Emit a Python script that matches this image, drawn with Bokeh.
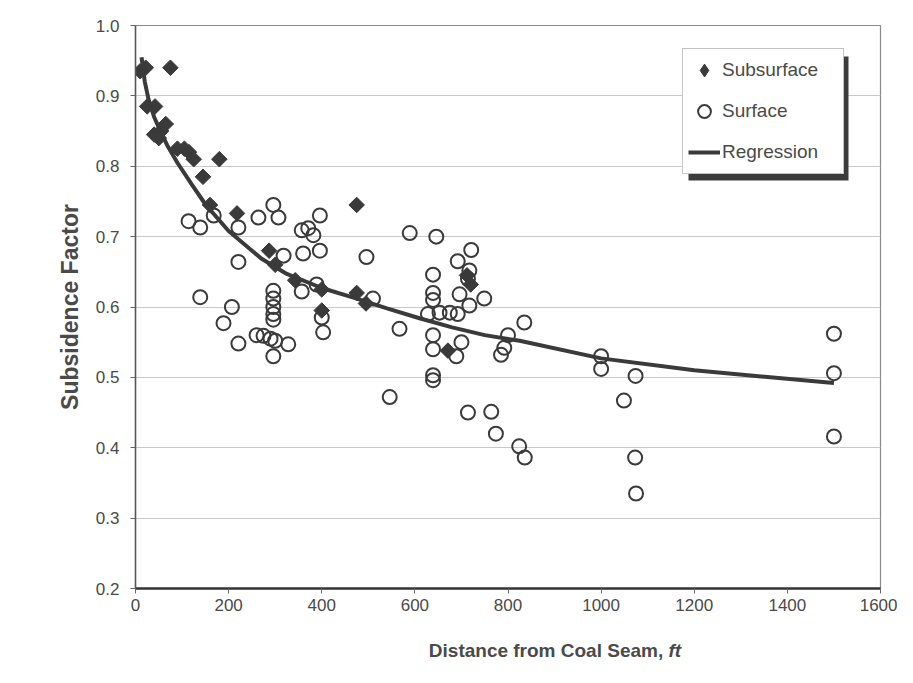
import math
from bokeh.plotting import figure
from bokeh.layouts import column
from bokeh.models import Legend, LegendItem, BoxAnnotation, FixedTicker, Range1d
from bokeh.core.properties import value
from bokeh.embed import file_html
from bokeh.resources import INLINE

# ---------------- data ----------------
x_ticks = [0, 200, 400, 600, 800, 1000, 1200, 1400, 1600]
x_tick_labels = ["0", "200", "400", "600", "800", "1000", "1200", "1400", "1600"]
y_ticks = [0.2, 0.3, 0.4, 0.5, 0.6, 0.7, 0.8, 0.9, 1.0]
y_tick_labels = ["0.2", "0.3", "0.4", "0.5", "0.6", "0.7", "0.8", "0.9", "1.0"]

sub_x = [10, 22, 75, 25, 42, 40, 55, 65, 50, 90, 105, 115, 125, 180, 145, 160,
         218, 287, 300, 343, 400, 400, 475, 475, 495, 671, 712, 720]
sub_y = [0.935, 0.940, 0.940, 0.885, 0.885, 0.845, 0.850, 0.860, 0.840, 0.825, 0.825,
         0.820, 0.810, 0.810, 0.785, 0.745, 0.733, 0.680, 0.660, 0.638, 0.625, 0.595,
         0.745, 0.620, 0.605, 0.538, 0.645, 0.632]

surf_x = [114, 139, 139, 168, 221, 221, 207, 189, 221, 264, 296, 307, 318, 260, 275, 290,
          300, 328, 296, 296, 296, 296, 296, 296, 357, 371, 382, 396, 360, 396, 389, 357,
          400, 403, 496, 510, 567, 589, 646, 546, 639, 639, 639, 628, 653, 675, 692, 639,
          639, 689, 639, 639, 692, 721, 717, 714, 696, 717, 749, 700, 800, 785, 792, 835,
          714, 764, 774, 824, 836, 1000, 1000, 1074, 1049, 1073, 1075, 1500, 1500, 1500]
surf_y = [0.722, 0.713, 0.614, 0.730, 0.713, 0.664, 0.600, 0.577, 0.548, 0.727, 0.745, 0.727,
          0.673, 0.560, 0.559, 0.555, 0.552, 0.547, 0.530, 0.623, 0.612, 0.600, 0.590, 0.582,
          0.709, 0.712, 0.702, 0.730, 0.676, 0.680, 0.632, 0.622, 0.585, 0.564, 0.671, 0.612,
          0.569, 0.705, 0.700, 0.472, 0.646, 0.620, 0.610, 0.590, 0.592, 0.592, 0.590, 0.560,
          0.540, 0.530, 0.503, 0.496, 0.665, 0.681, 0.652, 0.640, 0.618, 0.602, 0.612, 0.550,
          0.560, 0.532, 0.542, 0.578, 0.450, 0.451, 0.420, 0.402, 0.386, 0.530, 0.512, 0.502,
          0.467, 0.386, 0.335, 0.562, 0.506, 0.416]

reg_x = [13, 20, 28, 40, 50, 68, 90, 120, 150, 200, 270, 325, 400, 470, 540, 610, 680,
         750, 825, 1000, 1200, 1500]
reg_y = [0.955, 0.920, 0.895, 0.870, 0.855, 0.830, 0.805, 0.775, 0.746, 0.708, 0.669,
         0.647, 0.627, 0.613, 0.598, 0.584, 0.571, 0.560, 0.552, 0.527, 0.510, 0.492]

x_title_main = "Distance from Coal Seam, "
x_title_unit = "ft"
y_title = "Subsidence Factor"

# ---------------- layout (pixels) ----------------
W = 897
H_MAIN = 625                                  # main figure height
H_TITLE = 42                                  # strip below holding the x title
FL, FR, FT, FB = 135, 880, 25, 588            # frame edges in picture pixels
X0, X1, Y0, Y1 = 0, 1600, 0.2, 1.0


def px_to_x(px):
    return X0 + (px - FL) * (X1 - X0) / (FR - FL)


def py_to_y(py):
    return Y1 - (py - FT) * (Y1 - Y0) / (FB - FT)


FONT = "Liberation Sans"
INK = "#3a3a3a"
TXT = "#4a4a4a"

p = figure(width=W, height=H_MAIN, output_backend="svg", toolbar_location=None,
           x_range=Range1d(X0, X1), y_range=Range1d(Y0, Y1),
           min_border_left=FL, min_border_right=W - FR, min_border_top=FT,
           min_border_bottom=H_MAIN - FB)
p.background_fill_color = "#ffffff"
p.border_fill_color = "#ffffff"
p.outline_line_color = "#8a8a8a"
p.outline_line_width = 1.2

p.xgrid.visible = False
p.ygrid.grid_line_color = "#c9c9c9"
p.ygrid.grid_line_width = 1

p.xaxis.ticker = FixedTicker(ticks=x_ticks)
p.yaxis.ticker = FixedTicker(ticks=y_ticks)
p.xaxis.major_label_overrides = dict(zip(x_ticks, x_tick_labels))
p.yaxis.major_label_overrides = dict(zip(y_ticks, y_tick_labels))

for ax in (p.xaxis, p.yaxis):
    ax.major_label_text_font = FONT
    ax.major_label_text_font_size = "17px"
    ax.major_label_text_color = TXT
    ax.major_tick_in = 0
    ax.major_tick_out = 5
    ax.minor_tick_line_color = None
    ax.major_tick_line_color = "#666666"
    ax.axis_label_text_font = FONT
    ax.axis_label_text_font_style = "bold"
    ax.axis_label_text_color = TXT

p.xaxis.axis_line_color = "#333333"
p.xaxis.axis_line_width = 2.5
p.yaxis.axis_line_color = "#555555"
p.yaxis.axis_line_width = 1.5
p.xaxis.major_label_standoff = 5
p.yaxis.major_label_standoff = 11

p.yaxis.axis_label = y_title
p.yaxis.axis_label_text_font_size = "23px"
p.yaxis.axis_label_standoff = 10
p.xaxis.axis_label = None

# ---------------- glyphs ----------------
# tiny diamonds under the real symbols: used only as the legend key
# (legend keys ignore the marker angle, so the rotated squares can't be used)
r_sub_key = p.scatter(sub_x, sub_y, marker="diamond", size=1,
                      fill_color=INK, line_color=INK)
r_sub = p.scatter(sub_x, sub_y, marker="square", size=11, angle=math.pi / 4,
                  fill_color=INK, line_color=INK, line_width=1)
r_surf = p.scatter(surf_x, surf_y, marker="circle", size=14, fill_color=None,
                   line_color=INK, line_width=2)
r_reg = p.line(reg_x, reg_y, line_color=INK, line_width=4)

# legend with drop shadow
LG_L, LG_R, LG_T = 682, 842, 50
PAD, GW, GH, SP, STD = 5, 32, 32, 9, 2
LG_B = LG_T + 2 * PAD + 3 * GH + 2 * SP
SH = 6
p.add_layout(BoxAnnotation(left=px_to_x(LG_L + SH), right=px_to_x(LG_R + SH),
                           top=py_to_y(LG_T + SH), bottom=py_to_y(LG_B + SH),
                           fill_color="#3c3c3c", fill_alpha=1.0, line_color=None))

legend = Legend(items=[LegendItem(label="Subsurface", renderers=[r_sub_key]),
                       LegendItem(label="Surface", renderers=[r_surf]),
                       LegendItem(label="Regression", renderers=[r_reg])],
                location=(LG_L - FL, FB - LG_B), margin=0, padding=PAD, spacing=SP,
                glyph_width=GW, glyph_height=GH, label_height=GH,
                label_width=(LG_R - LG_L) - 2 * PAD - GW - STD,
                label_standoff=STD,
                label_text_font=FONT, label_text_font_size="19px",
                label_text_color=TXT,
                border_line_color="#8a8a8a", border_line_width=1,
                background_fill_color="#ffffff", background_fill_alpha=1.0)
p.add_layout(legend)

# ---------------- x axis title strip ----------------
t = figure(width=W, height=H_TITLE, output_backend="svg", toolbar_location=None,
           x_range=p.x_range, y_range=Range1d(0, 1),
           min_border_left=FL, min_border_right=W - FR, min_border_top=0,
           min_border_bottom=0)
t.axis.visible = False
t.grid.visible = False
t.outline_line_color = None
t.background_fill_color = "#ffffff"
t.border_fill_color = "#ffffff"
split_x = px_to_x(668)
title_center = 1 - (650 - H_MAIN) / H_TITLE
t.text(x=[split_x], y=[title_center], text=[x_title_main], text_align="right",
       text_baseline="middle", text_font=value(FONT), text_font_style="bold",
       text_font_size="19px", text_color=TXT)
t.text(x=[split_x], y=[title_center], text=[x_title_unit], text_align="left",
       text_baseline="middle", text_font=value(FONT), text_font_style="bold italic",
       text_font_size="19px", text_color=TXT)

layout = column(p, t, spacing=0)
open("out.html", "w").write(file_html(layout, INLINE))
